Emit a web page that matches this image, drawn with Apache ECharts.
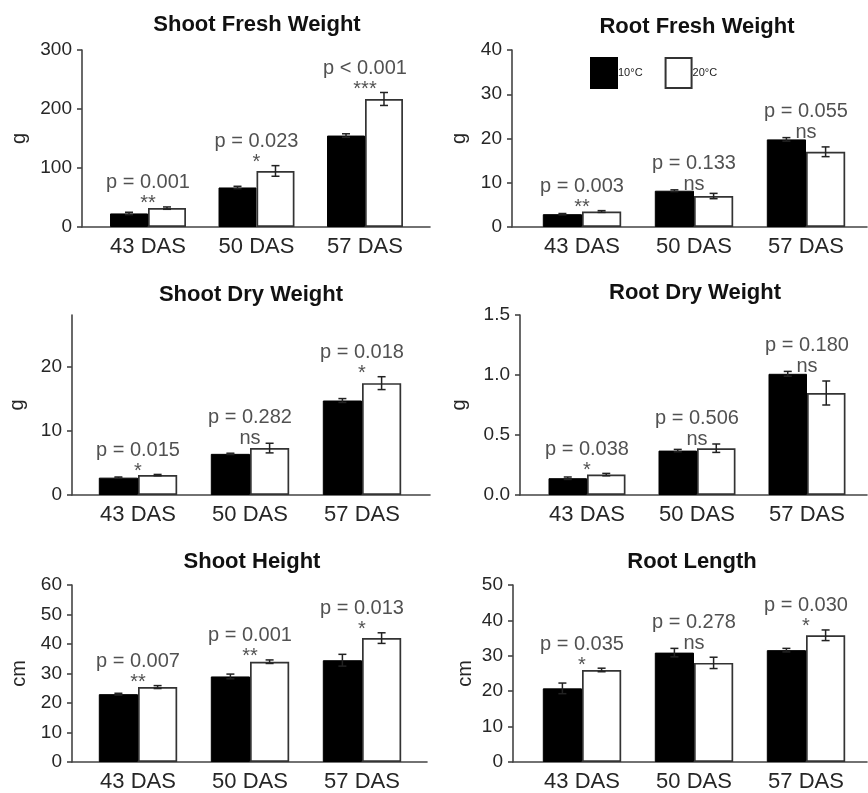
<!DOCTYPE html>
<html><head><meta charset="utf-8">
<script src="https://cdn.jsdelivr.net/npm/echarts@6/dist/echarts.min.js"></script>
<style>html,body{margin:0;padding:0;background:#fff}#c{width:868px;height:793px}</style>
</head><body><div id="c"></div>
<script>
// ---------- DATA ----------
const categories = ['43 DAS', '50 DAS', '57 DAS'];
const seriesNames = ['10°C', '20°C'];

const shootFresh10 = [23, 67, 155];
const shootFresh10Err = [2, 2, 3];
const shootFresh20 = [32, 95, 217];
const shootFresh20Err = [2, 9, 11];
const shootFreshP = ['p = 0.001', 'p = 0.023', 'p < 0.001'];
const shootFreshSig = ['**', '*', '***'];
const shootFreshTicks = [0, 100, 200, 300];

const rootFresh10 = [2.9, 8.2, 19.8];
const rootFresh10Err = [0.15, 0.2, 0.4];
const rootFresh20 = [3.5, 7.0, 17.0];
const rootFresh20Err = [0.2, 0.6, 1.1];
const rootFreshP = ['p = 0.003', 'p = 0.133', 'p = 0.055'];
const rootFreshSig = ['**', 'ns', 'ns'];
const rootFreshTicks = [0, 10, 20, 30, 40];

const shootDry10 = [2.7, 6.4, 14.7];
const shootDry10Err = [0.1, 0.1, 0.3];
const shootDry20 = [3.1, 7.3, 17.4];
const shootDry20Err = [0.1, 0.75, 1.0];
const shootDryP = ['p = 0.015', 'p = 0.282', 'p = 0.018'];
const shootDrySig = ['*', 'ns', '*'];
const shootDryTicks = [0, 10, 20];

const rootDry10 = [0.14, 0.37, 1.01];
const rootDry10Err = [0.01, 0.01, 0.02];
const rootDry20 = [0.17, 0.39, 0.85];
const rootDry20Err = [0.01, 0.035, 0.1];
const rootDryP = ['p = 0.038', 'p = 0.506', 'p = 0.180'];
const rootDrySig = ['*', 'ns', 'ns'];
const rootDryTicks = [0, 0.5, 1.0, 1.5];

const shootHeight10 = [23, 29, 34.5];
const shootHeight10Err = [0.3, 0.8, 2.0];
const shootHeight20 = [25.4, 34, 42];
const shootHeight20Err = [0.5, 0.6, 1.8];
const shootHeightP = ['p = 0.007', 'p = 0.001', 'p = 0.013'];
const shootHeightSig = ['**', '**', '*'];
const shootHeightTicks = [0, 10, 20, 30, 40, 50, 60];

const rootLength10 = [20.8, 30.9, 31.6];
const rootLength10Err = [1.5, 1.2, 0.5];
const rootLength20 = [26.0, 28.0, 35.8];
const rootLength20Err = [0.5, 1.6, 1.5];
const rootLengthP = ['p = 0.035', 'p = 0.278', 'p = 0.030'];
const rootLengthSig = ['*', 'ns', '*'];
const rootLengthTicks = [0, 10, 20, 30, 40, 50];

// ---------- PANELS (data refs + layout) ----------
const panels = [
  {title: 'Shoot Fresh Weight', unit: 'g', v10: shootFresh10, e10: shootFresh10Err, v20: shootFresh20, e20: shootFresh20Err, p: shootFreshP, sig: shootFreshSig, ticks: shootFreshTicks, yMax: 300, dec: 0,
   axisX: 82, axisEnd: 430, top: 50, bottom: 227, bandL: 93.75, bandR: 419.25, tx: 257, ty: 25, gap: 53},
  {title: 'Root Fresh Weight', unit: 'g', v10: rootFresh10, e10: rootFresh10Err, v20: rootFresh20, e20: rootFresh20Err, p: rootFreshP, sig: rootFreshSig, ticks: rootFreshTicks, yMax: 40, dec: 0,
   axisX: 512, axisEnd: 867, top: 50, bottom: 227, bandL: 526, bandR: 862, tx: 697, ty: 27, gap: 43},
  {title: 'Shoot Dry Weight', unit: 'g', v10: shootDry10, e10: shootDry10Err, v20: shootDry20, e20: shootDry20Err, p: shootDryP, sig: shootDrySig, ticks: shootDryTicks, yMax: 28, dec: 0,
   axisX: 72, axisEnd: 430, top: 315, bottom: 495, bandL: 82, bandR: 418, tx: 251, ty: 295, gap: 45},
  {title: 'Root Dry Weight', unit: 'g', v10: rootDry10, e10: rootDry10Err, v20: rootDry20, e20: rootDry20Err, p: rootDryP, sig: rootDrySig, ticks: rootDryTicks, yMax: 1.5, dec: 1,
   axisX: 520, axisEnd: 867, top: 315, bottom: 495, bandL: 532, bandR: 862, tx: 695, ty: 293, gap: 51},
  {title: 'Shoot Height', unit: 'cm', v10: shootHeight10, e10: shootHeight10Err, v20: shootHeight20, e20: shootHeight20Err, p: shootHeightP, sig: shootHeightSig, ticks: shootHeightTicks, yMax: 60, dec: 0,
   axisX: 72, axisEnd: 427, top: 585, bottom: 762, bandL: 82, bandR: 418, tx: 252, ty: 562, gap: 43},
  {title: 'Root Length', unit: 'cm', v10: rootLength10, e10: rootLength10Err, v20: rootLength20, e20: rootLength20Err, p: rootLengthP, sig: rootLengthSig, ticks: rootLengthTicks, yMax: 50, dec: 0,
   axisX: 513, axisEnd: 867, top: 585, bottom: 762, bandL: 526, bandR: 862, tx: 692, ty: 562, gap: 38}
];

const H = 793, W = 868;
const FONT = "'Liberation Sans', Arial, sans-serif";
const AXIS_COLOR = '#444';
const TEXT_COLOR = '#262626';
const GROUP_FRAC = 0.7;

const grid = [], xAxis = [], yAxis = [], series = [], graphic = [];

function errRender(params, api) {
  const ci = api.value(0), v = api.value(1), e = api.value(2), side = api.value(3);
  const c = api.coord([ci, v]);
  const band = api.size([1, 0])[0];
  const bw = band * GROUP_FRAC / 2;
  const x = c[0] + (side === 0 ? -bw / 2 : bw / 2);
  const hi = api.coord([ci, v + e])[1];
  const lo = api.coord([ci, v - e])[1];
  const cap = 4;
  const st = {stroke: '#222', lineWidth: 1.5};
  return {type: 'group', children: [
    {type: 'line', shape: {x1: x, y1: hi, x2: x, y2: lo}, style: st},
    {type: 'line', shape: {x1: x - cap, y1: hi, x2: x + cap, y2: hi}, style: st},
    {type: 'line', shape: {x1: x - cap, y1: lo, x2: x + cap, y2: lo}, style: st}
  ]};
}

panels.forEach((pn, k) => {
  const gOuter = grid.length;
  grid.push({left: pn.axisX, width: pn.axisEnd - pn.axisX, top: pn.top, bottom: H - pn.bottom, containLabel: false});
  const gInner = grid.length;
  grid.push({left: pn.bandL, width: pn.bandR - pn.bandL, top: pn.top, bottom: H - pn.bottom, containLabel: false});

  // outer axes (frame)
  xAxis.push({gridIndex: gOuter, type: 'value', min: 0, max: 1,
    axisLine: {show: true, lineStyle: {color: AXIS_COLOR, width: 1.6}},
    axisTick: {show: false}, axisLabel: {show: false}, splitLine: {show: false}});
  yAxis.push({gridIndex: gOuter, type: 'value', min: 0, max: pn.yMax,
    interval: pn.ticks[1] - pn.ticks[0],
    name: pn.unit, nameLocation: 'middle', nameRotate: 90, nameGap: pn.gap,
    nameTextStyle: {fontSize: 20, color: TEXT_COLOR, fontFamily: FONT},
    axisLine: {show: true, lineStyle: {color: AXIS_COLOR, width: 1.6}},
    axisTick: {show: true, length: 5, customValues: pn.ticks, lineStyle: {color: AXIS_COLOR, width: 1.6}},
    axisLabel: {show: true, customValues: pn.ticks, fontSize: 19, color: TEXT_COLOR, fontFamily: FONT, margin: 10,
      formatter: v => Number(v).toFixed(pn.dec)},
    splitLine: {show: false}});

  // inner axes (bars)
  const xi = xAxis.length;
  xAxis.push({gridIndex: gInner, type: 'category', data: categories,
    axisLine: {show: false}, axisTick: {show: false},
    axisLabel: {fontSize: 22, color: TEXT_COLOR, fontFamily: FONT, margin: 9}});
  const yi = yAxis.length;
  yAxis.push({gridIndex: gInner, type: 'value', min: 0, max: pn.yMax, show: false, splitLine: {show: false}});

  series.push({name: seriesNames[0], type: 'bar', xAxisIndex: xi, yAxisIndex: yi, data: pn.v10,
    barGap: '0%', barCategoryGap: ((1 - GROUP_FRAC) * 100) + '%',
    itemStyle: {color: '#000', borderColor: '#000', borderWidth: 1}, silent: true, z: 2});
  series.push({name: seriesNames[1], type: 'bar', xAxisIndex: xi, yAxisIndex: yi, data: pn.v20,
    barGap: '0%', barCategoryGap: ((1 - GROUP_FRAC) * 100) + '%',
    itemStyle: {color: '#fff', borderColor: '#333', borderWidth: 1.7}, silent: true, z: 2});

  const errData = [];
  for (let i = 0; i < categories.length; i++) {
    errData.push([i, pn.v10[i], pn.e10[i], 0]);
    errData.push([i, pn.v20[i], pn.e20[i], 1]);
  }
  series.push({type: 'custom', xAxisIndex: xi, yAxisIndex: yi, data: errData, renderItem: errRender,
    encode: {x: 0, y: 1}, silent: true, z: 5});

  const lab = categories.map((c, i) => ({
    value: [i, Math.max(pn.v10[i] + pn.e10[i], pn.v20[i] + pn.e20[i])],
    label: {offset: [0, pn.sig[i] === 'ns' ? 6 : 8]}
  }));
  series.push({type: 'scatter', xAxisIndex: xi, yAxisIndex: yi, data: lab, symbolSize: 1,
    itemStyle: {color: 'rgba(0,0,0,0)'}, silent: true, z: 6,
    label: {show: true, position: 'top', distance: 0,
      formatter: prm => pn.p[prm.dataIndex] + '\n' + pn.sig[prm.dataIndex],
      fontSize: 20, lineHeight: 21, color: TEXT_COLOR, fontFamily: FONT}});

  graphic.push({type: 'text', x: pn.tx, y: pn.ty, style: {text: pn.title, fontSize: 22, fontWeight: 'bold',
    fontFamily: FONT, fill: '#111', textAlign: 'center', textVerticalAlign: 'middle'}});
});

const chart = echarts.init(document.getElementById('c'), null, {renderer: 'canvas'});
chart.setOption({
  animation: false,
  backgroundColor: '#fff',
  grid, xAxis, yAxis, series, graphic,
  legend: {data: seriesNames, left: 585, top: 52, itemWidth: 26, itemHeight: 30, itemGap: 22,
    icon: 'rect', selectedMode: false,
    textStyle: {fontSize: 11, color: '#222', fontFamily: FONT, padding: [6, 0, 0, -4]}}
});
</script></body></html>
